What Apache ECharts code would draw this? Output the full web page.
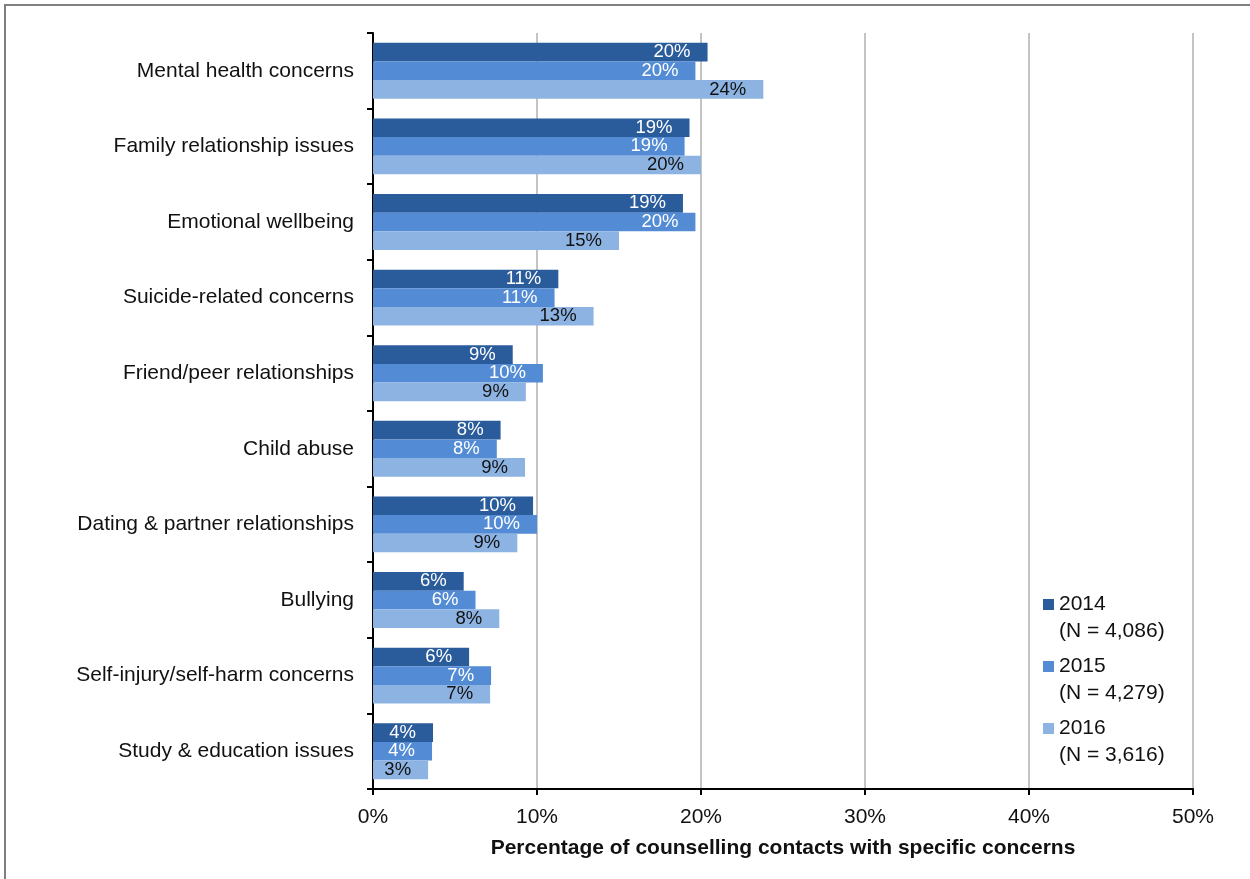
<!DOCTYPE html>
<html>
<head>
<meta charset="utf-8">
<script src="https://cdn.jsdelivr.net/npm/echarts@6/dist/echarts.min.js"></script>
<style>
html,body{margin:0;padding:0;background:#fff;}
#chart{width:1250px;height:879px;}
</style>
</head>
<body>
<div id="chart"></div>
<script>
const categories = [
  'Mental health concerns',
  'Family relationship issues',
  'Emotional wellbeing',
  'Suicide-related concerns',
  'Friend/peer relationships',
  'Child abuse',
  'Dating & partner relationships',
  'Bullying',
  'Self-injury/self-harm concerns',
  'Study & education issues'
];
const seriesNames = ['2014', '2015', '2016'];
const legendNotes = ['(N = 4,086)', '(N = 4,279)', '(N = 3,616)'];
const values2014 = [20.4, 19.3, 18.9, 11.3, 8.52, 7.78, 9.76, 5.53, 5.86, 3.66];
const values2015 = [19.66, 19.0, 19.66, 11.07, 10.36, 7.55, 10.0, 6.25, 7.2, 3.6];
const values2016 = [23.8, 20.0, 15.0, 13.45, 9.32, 9.27, 8.8, 7.7, 7.14, 3.36];
const xTicks = [0, 10, 20, 30, 40, 50];

const colors = ['#2a5b9b', '#538cd5', '#8db3e2'];
const labelColors = ['#ffffff', '#ffffff', '#111111'];
const FONT = '"Liberation Sans", Arial, Helvetica, sans-serif';

const chart = echarts.init(document.getElementById('chart'));
const allValues = [values2014, values2015, values2016];

const series = seriesNames.map((name, i) => ({
  name: name,
  type: 'bar',
  data: allValues[i],
  barGap: '0%',
  barCategoryGap: '26%',
  itemStyle: { color: colors[i] },
  label: {
    show: true,
    position: 'insideRight',
    distance: 17,
    color: labelColors[i],
    fontFamily: FONT,
    fontSize: 18.5,
    formatter: p => Math.round(p.value) + '%'
  },
  emphasis: { disabled: true }
}));

chart.setOption({
  animation: false,
  backgroundColor: '#ffffff',
  textStyle: { fontFamily: FONT },
  graphic: [{
    type: 'rect',
    shape: { x: 5, y: 5, width: 1400, height: 1000 },
    style: { fill: 'none', stroke: '#808080', lineWidth: 2 },
    silent: true,
    z: -10
  }],
  grid: { left: 373, right: 57, top: 33, bottom: 90, containLabel: false },
  legend: {
    orient: 'vertical',
    left: 1043,
    top: 564,
    padding: 0,
    itemWidth: 11,
    itemHeight: 11,
    itemGap: -19,
    icon: 'rect',
    data: seriesNames,
    formatter: name => '\n' + name + '\n' + legendNotes[seriesNames.indexOf(name)],
    textStyle: {
      fontFamily: FONT,
      fontSize: 21,
      color: '#111',
      lineHeight: 27
    },
    itemStyle: { borderWidth: 0 }
  },
  xAxis: {
    type: 'value',
    min: 0,
    max: 50,
    interval: 10,
    name: 'Percentage of counselling contacts with specific concerns',
    nameLocation: 'middle',
    nameGap: 49,
    nameTextStyle: { fontFamily: FONT, fontSize: 21, fontWeight: 'bold', color: '#111' },
    axisLine: { show: true, lineStyle: { color: '#000', width: 2 } },
    axisTick: { show: true, length: 6, lineStyle: { color: '#000', width: 2 } },
    axisLabel: {
      fontFamily: FONT, fontSize: 21, color: '#111', margin: 18,
      formatter: v => v + '%'
    },
    splitLine: { show: true, lineStyle: { color: '#c4c4c4', width: 2 } }
  },
  yAxis: {
    type: 'category',
    data: categories,
    inverse: true,
    axisLine: { show: true, lineStyle: { color: '#000', width: 2 } },
    axisTick: { show: true, length: 6, lineStyle: { color: '#000', width: 2 } },
    axisLabel: { fontFamily: FONT, fontSize: 21, color: '#111', margin: 19 },
    splitLine: { show: false }
  },
  series: series
});
</script>
</body>
</html>
